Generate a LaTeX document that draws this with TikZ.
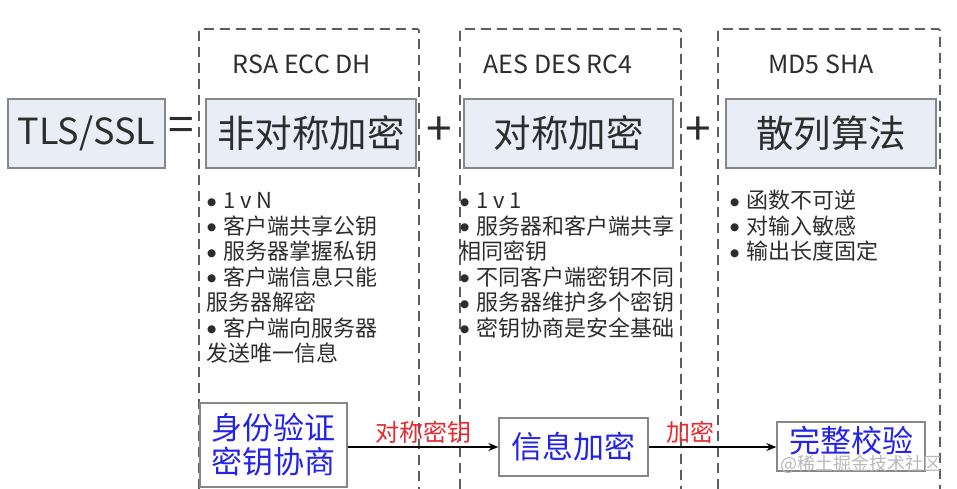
\documentclass[tikz,border=0pt]{standalone}
\usepackage{fontspec}
\setmainfont{Noto Sans CJK SC}
\newfontfamily\symfont{DejaVu Sans}
\usetikzlibrary{arrows.meta, positioning}
\definecolor{boxfill}{RGB}{232,237,246}
\definecolor{boxgray}{RGB}{135,135,135}
\definecolor{textgray}{RGB}{45,45,45}
\definecolor{dashgray}{RGB}{95,95,95}
\definecolor{keyblue}{RGB}{35,35,235}
\definecolor{keyred}{RGB}{232,40,45}
\newcommand{\itm}{\makebox[17pt][l]{\hspace{1pt}\raisebox{3.5pt}{\symfont\fontsize{10.5}{10.5}\selectfont ●}}}

\begin{document}
\begin{tikzpicture}[x=1pt, y=-1pt,
    title/.style={draw=boxgray, fill=boxfill, line width=1.3pt, minimum height=69pt, inner sep=0pt, text=textgray, font=\fontsize{37.5}{40}\selectfont},
    algo/.style={text=textgray, font=\fontsize{25}{28}\selectfont},
    sign/.style={text=textgray, font=\fontsize{46}{46}\selectfont},
    bullets/.style={anchor=north west, inner sep=0pt, align=left, text=textgray, font=\fontsize{22}{25.5}\selectfont},
    flowbox/.style={draw=boxgray, fill=white, line width=1.3pt, inner sep=0pt, align=center, text=keyblue, font=\fontsize{31}{34}\selectfont},
    arrow/.style={-{Stealth[length=10pt, width=8pt]}, line width=1.5pt, black},
    arrowtext/.style={above, inner sep=3pt, text=keyred, font=\fontsize{24}{26}\selectfont},
    group/.style={dashgray, line width=1.8pt, dash pattern=on 10pt off 6pt, rounded corners=2pt}
]
\useasboundingbox (0,0) rectangle (957,489);

% Dashed groups
\draw[group] (199,489) |- (419,29) -- (419,489);
\draw[group] (460,489) |- (681,29) -- (681,489);
\draw[group] (718,489) |- (940,29) -- (940,489);

% Top row
\node[title, minimum width=157pt, font=\fontsize{36}{40}\selectfont] (tls) at (86.5,133.5) {TLS/SSL};
\node[sign] (eq) at (181,129) {=};
\node[title, minimum width=210pt] (asym) at (311,133.5) {非对称加密};
\node[sign] (plus1) at (439,131) {+};
\node[title, minimum width=209pt] (sym) at (568.5,133.5) {对称加密};
\node[sign] (plus2) at (698,131) {+};
\node[title, minimum width=210pt] (hash) at (831,133.5) {散列算法};

% Algorithms
\node[algo] (asymalgo) at (302,64) {RSA ECC DH};
\node[algo] (symalgo) at (558,64) {AES DES RC4};
\node[algo] (hashalgo) at (821,64) {MD5 SHA};

% Features
\node[bullets] (asymlist) at (206,190) {\itm\vphantom{客}1 v N\\
    \itm 客户端共享公钥\\
    \itm 服务器掌握私钥\\
    \itm 客户端信息只能\\
    服务器解密\\
    \itm 客户端向服务器\\
    发送唯一信息};
\node[bullets] (symlist) at (459,190) {\itm\vphantom{客}1 v 1\\
    \itm 服务器和客户端共享\\
    相同密钥\\
    \itm 不同客户端密钥不同\\
    \itm 服务器维护多个密钥\\
    \itm 密钥协商是安全基础};
\node[bullets] (hashlist) at (729,190) {\itm 函数不可逆\\
    \itm 对输入敏感\\
    \itm 输出长度固定};

% Flow
\node[flowbox, minimum width=147pt, minimum height=84pt] (auth) at (273.5,445) {身份验证\\密钥协商};
\node[flowbox, minimum width=149pt, minimum height=58pt] (enc) at (573.5,447) {信息加密};
\node[flowbox, minimum width=148pt, minimum height=49pt, text height=27pt, text depth=16pt] (check) at (851,446.5) {完整校验};

\draw[arrow] (auth.east |- enc.west) -- (enc.west) node[arrowtext, midway] {对称密钥};
\draw[arrow] (enc.east) -- (enc.east -| check.west) node[arrowtext, pos=0.33] {加密};

\node[text=gray!55, font=\fontsize{18}{20}\selectfont] (mark) at (861,464) {@稀土掘金技术社区};

\end{tikzpicture}
\end{document}
